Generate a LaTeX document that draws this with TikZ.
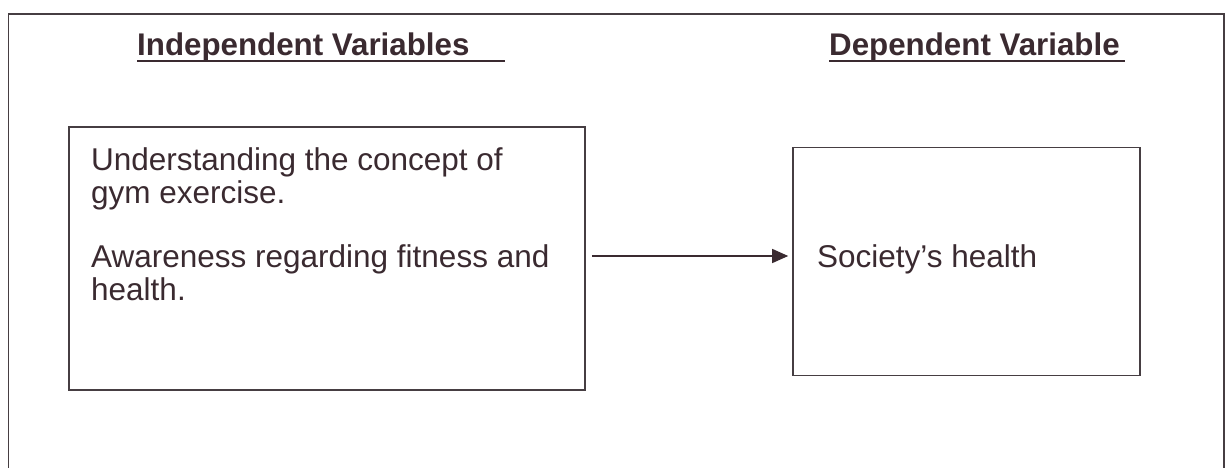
\documentclass[tikz,border=0pt]{standalone}
\usepackage{fontspec}
\setmainfont{Liberation Sans}
\usetikzlibrary{arrows.meta}
\definecolor{ink}{RGB}{58,42,48}
\definecolor{rule}{RGB}{70,62,66}
\tikzset{
  txt/.style={anchor=base west, inner sep=0pt, text=ink, font=\fontsize{31.5}{33}\selectfont},
  hdr/.style={txt, font=\fontsize{31.3}{33}\selectfont\bfseries},
  boxed/.style={draw=rule, line width=1.6pt, inner sep=0pt},
  uline/.style={draw=ink, line width=2pt},
  arr/.style={draw=ink, line width=1.4pt, -{Triangle[length=16pt,width=14pt]}}
}
\begin{document}
\begin{tikzpicture}[x=1pt,y=-1pt]
\useasboundingbox (0,0) rectangle (1226,468);
% outer frame (bottom edge lies beyond the picture)
\draw[draw=rule, line width=1.4pt] (8.5,468) -- (8.5,14) -- (1224,14) -- (1224,468);
% headers
\node[hdr] (hind) at (137,56) {Independent Variables};
\coordinate (hinda) at (137,61.5);
\coordinate (hindb) at (505,61.5);
\draw[uline] (hinda) -- (hindb);
\node[hdr] (hdep) at (829,56) {Dependent Variable};
\coordinate (hdepa) at (829,61.5);
\coordinate (hdepb) at (1125,61.5);
\draw[uline] (hdepa) -- (hdepb);
% boxes
\node[boxed, minimum width=516pt, minimum height=263pt] (lbox) at (327,258.5) {};
\node[boxed, minimum width=347pt, minimum height=228pt] (rbox) at (966.5,261.5) {};
% texts
\node[txt] (l1) at (91,170) {Understanding the concept of};
\node[txt] (l2) at (91,203) {gym exercise.};
\node[txt] (l3) at (91,267) {Awareness regarding fitness and};
\node[txt] (l4) at (91,300) {health.};
\node[txt] (r1) at (817,267) {Society’s health};
% connector
\draw[arr] ([xshift=6pt,yshift=2.5pt]lbox.east) -- ([xshift=-4pt,yshift=5.5pt]rbox.west);
\end{tikzpicture}
\end{document}
